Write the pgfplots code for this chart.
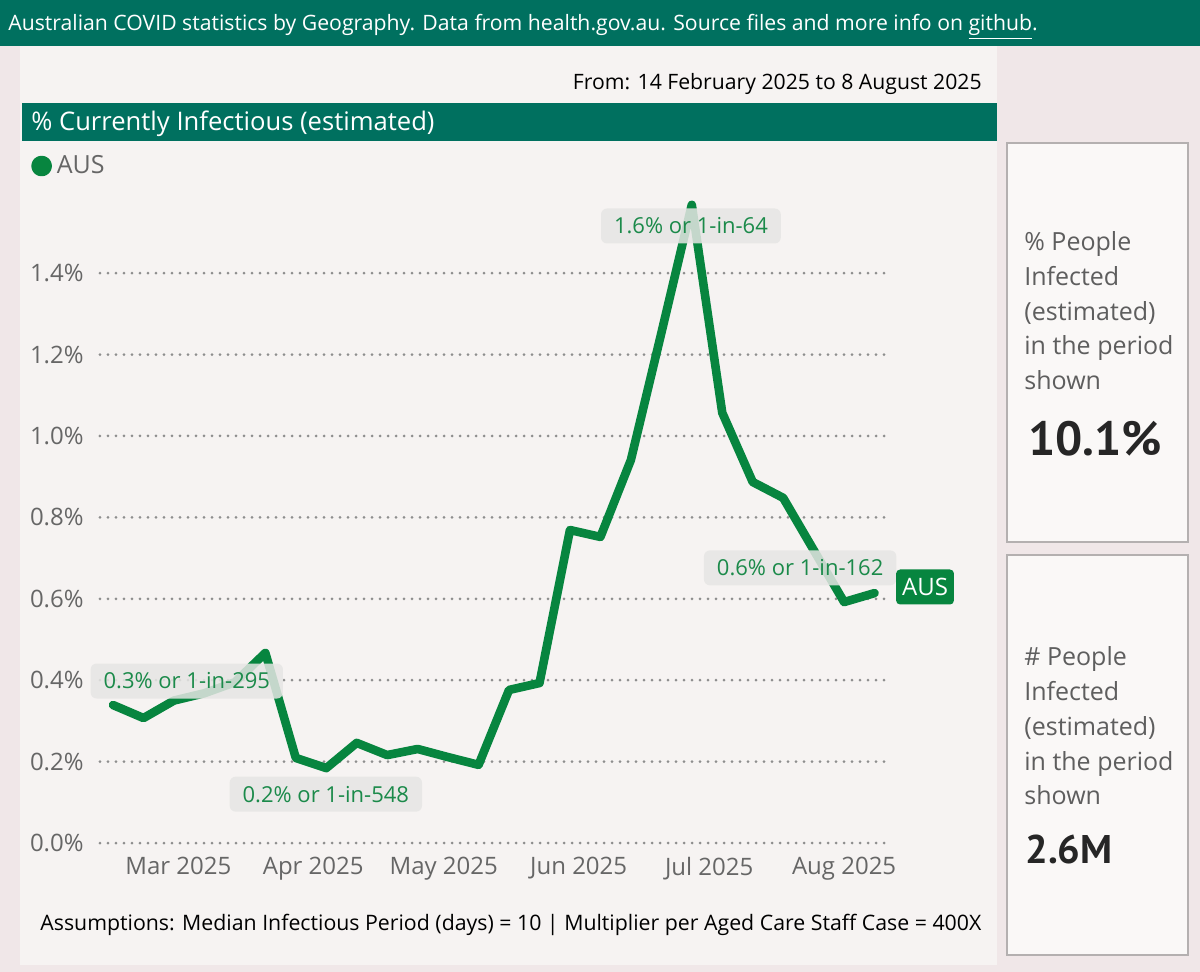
\documentclass[border=0pt]{standalone}
\usepackage{fontspec}
\setmainfont{Open Sans}
\newfontfamily\numfont{PT Sans}
\usepackage{pgfplots}
\pgfplotsset{compat=1.18}

\definecolor{outerbg}{HTML}{F0E7E8}
\definecolor{panelbg}{HTML}{F6F3F2}
\definecolor{bannerteal}{HTML}{00705F}
\definecolor{aus}{HTML}{07853F}
\definecolor{labgreen}{HTML}{1B8A4A}
\definecolor{labgray}{HTML}{E6E6E4}
\definecolor{tickgray}{HTML}{666666}
\definecolor{gridgray}{HTML}{8E8E8E}
\definecolor{cardfill}{HTML}{FAF8F7}
\definecolor{cardline}{HTML}{B4B0B0}
\definecolor{cardtext}{HTML}{5E5E5E}

\tikzset{
  lab/.style={fill=labgray, fill opacity=0.85, text opacity=1, text=labgreen,
    rounded corners=3pt, inner xsep=6.5pt, inner ysep=0pt, minimum height=17.5pt,
    font=\fontsize{11}{13}\selectfont},
  cardtxt/.style={anchor=base west, inner sep=0pt, text=cardtext,
    font=\fontsize{12.5}{15}\selectfont},
}

\begin{document}
\begin{tikzpicture}
% page furniture, laid out in image pixels (1 px = 0.5 pt, y downwards)
\begin{scope}[x=0.5pt,y=-0.5pt]
\fill[outerbg] (0,0) rectangle (1200,972);
\fill[panelbg] (20,46) rectangle (997,965);
\fill[bannerteal] (0,0) rectangle (1200,46);
\node[anchor=base west, inner sep=0pt, text=white, font=\fontsize{10.6}{12}\selectfont] at (8,31)
  {Australian COVID statistics by Geography. Data from health.gov.au. Source files and more info on \underline{github}.};
\node[anchor=base east, inner sep=0pt, font=\fontsize{10.6}{12}\selectfont] at (982,90)
  {From: 14 February 2025 to 8 August 2025};
\fill[bannerteal] (22,103) rectangle (997,141);
\node[anchor=base west, inner sep=0pt, text=white, font=\fontsize{12.8}{14}\selectfont] at (31,130.5)
  {\% Currently Infectious (estimated)};
\node[anchor=base west, inner sep=0pt, font=\fontsize{10.65}{12}\selectfont] at (40,930)
  {Assumptions: Median Infectious Period (days) = 10 | Multiplier per Aged Care Staff Case = 400X};
% cards
\draw[cardline, fill=cardfill, line width=0.6pt] (1007,143) rectangle (1188,542);
\draw[cardline, fill=cardfill, line width=0.6pt] (1007,555) rectangle (1188,955);
\node[cardtxt] at (1024,250.5) {\% People};
\node[cardtxt] at (1024,285.3) {Infected};
\node[cardtxt] at (1024,320.1) {(estimated)};
\node[cardtxt] at (1024,354.9) {in the period};
\node[cardtxt] at (1024,389.7) {shown};
\node[anchor=base west, inner sep=0pt, text=black!85, font=\numfont\bfseries\fontsize{24}{28}\selectfont] at (1028,455.7) {10.1\%};
\node[cardtxt] at (1024,665.6) {\# People};
\node[cardtxt] at (1024,700.4) {Infected};
\node[cardtxt] at (1024,735.2) {(estimated)};
\node[cardtxt] at (1024,770.0) {in the period};
\node[cardtxt] at (1024,804.8) {shown};
\node[anchor=base west, inner sep=0pt, text=black!85, font=\numfont\bfseries\fontsize{20}{24}\selectfont] at (1025,863.8) {2.6M};
\end{scope}

\begin{axis}[
  at={(50pt,-421.5pt)}, anchor=south west,
  scale only axis, width=392.5pt, height=325.6pt,
  xmin=42, xmax=222.4, ymin=0, ymax=1.6,
  clip=false,
  axis line style={draw=none},
  major tick length=0pt,
  /pgf/number format/assume math mode=true,
  scaled y ticks=false,
  ytick={0,0.2,0.4,0.6,0.8,1.0,1.2,1.4},
  yticklabel={\pgfmathprintnumber[fixed,fixed zerofill,precision=1]{\tick}\%},
  xtick={60,91,121,152,182,213},
  xticklabels={Mar 2025,Apr 2025,May 2025,Jun 2025,Jul 2025,Aug 2025},
  tick label style={font=\fontsize{12}{14}\selectfont, text=tickgray},
  yticklabel style={anchor=east, inner sep=0pt, xshift=-8pt},
  xticklabel style={anchor=north, inner sep=0pt, yshift=-7pt},
  ymajorgrids,
  grid style={gridgray, line width=1.5pt, line cap=round, dash pattern=on 0pt off 4pt},
  legend style={at={(-0.0880,1.0396)}, anchor=west, draw=none, fill=none,
    inner sep=0pt, font=\fontsize{12.5}{14}\selectfont, text=tickgray,
    nodes={inner sep=0pt}},
  legend image code/.code={\fill[aus] (0pt,0pt) circle (3pt);},
]
\addplot[aus, line width=4.3pt, line join=round, line cap=round] coordinates {
  (45,0.339) (52,0.307) (59,0.350) (66,0.368) (73,0.395) (80,0.467)
  (87,0.209) (94,0.184) (101,0.246) (108,0.216) (115,0.231) (122,0.211)
  (129,0.192) (136,0.376) (143,0.393) (150,0.769) (157,0.752) (164,0.941)
  (171,1.253) (178,1.568) (185,1.057) (192,0.887) (199,0.848) (206,0.720)
  (213,0.592) (220,0.614)
};
\addlegendentry{\hspace{2.5pt}AUS}
\node[lab] at (axis cs:61.95,0.398) {0.3\% or 1-in-295};
\node[lab] at (axis cs:93.9,0.120) {0.2\% or 1-in-548};
\node[lab] at (axis cs:177.8,1.516) {1.6\% or 1-in-64};
\node[lab] at (axis cs:202.9,0.676) {0.6\% or 1-in-162};
\node[fill=aus, text=white, rounded corners=2pt, inner xsep=3pt, inner ysep=0pt,
  minimum height=17.5pt, font=\fontsize{12}{14}\selectfont] at (axis cs:231.6,0.629) {AUS};
\end{axis}
\end{tikzpicture}
\end{document}
